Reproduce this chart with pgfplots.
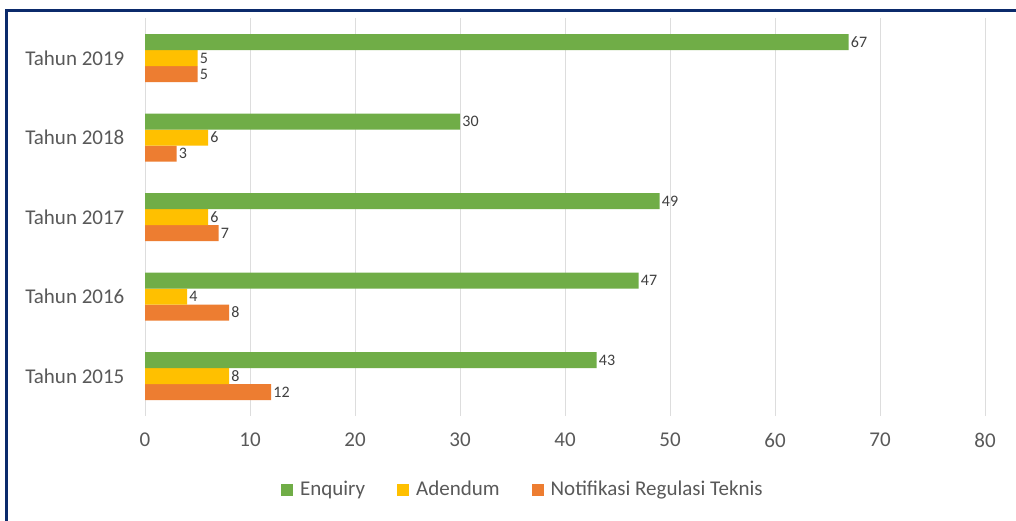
\documentclass[border=0pt]{standalone}
\usepackage{pgfplots}
\pgfplotsset{compat=1.18}
\usepackage{fontspec}
\setmainfont{Carlito}
\definecolor{cEnq}{HTML}{70AD47}
\definecolor{cAde}{HTML}{FFC000}
\definecolor{cNot}{HTML}{ED7D31}
\definecolor{cTxt}{HTML}{595959}
\definecolor{cLbl}{HTML}{404040}
\definecolor{cGrid}{HTML}{DDDDDD}
\definecolor{cBorder}{HTML}{0B2A6B}
\begin{document}
\begin{tikzpicture}
\useasboundingbox (0,0) rectangle (508pt,260pt);
\fill[white] (0,0) rectangle (508pt,260pt);
\draw[cBorder, line width=1.5pt] (3pt,-2pt) -- (3pt,254.5pt) -- (512pt,254.5pt);
\begin{axis}[
  at={(72.5pt,52.1pt)}, anchor=south west,
  scale only axis,
  width=420pt, height=198.75pt,
  xbar=0pt, bar width=8pt,
  xmin=0, xmax=80,
  ymin=-0.5, ymax=4.5,
  xtick={0,10,...,80},
  ytick={0,1,2,3,4},
  yticklabels={Tahun 2015,Tahun 2016,Tahun 2017,Tahun 2018,Tahun 2019},
  axis line style={draw=none},
  tick style={draw=none},
  xmajorgrids,
  grid style={cGrid, line width=0.5pt},
  /pgf/number format/assume math mode=true,
  ticklabel style={font=\fontsize{10.5}{12}\selectfont, text=cTxt},
  xticklabel style={yshift=-5pt},
  yticklabel style={xshift=-2.5pt},
  nodes near coords,
  every node near coord/.append style={font=\fontsize{8}{9}\selectfont, text=cLbl, anchor=west, inner xsep=1pt},
  legend columns=3,
  reverse legend,
  legend style={at={(0.451,-0.187)}, anchor=center, draw=none, fill=none,
    font=\fontsize{10.5}{12}\selectfont, text=cTxt,
    /tikz/every even column/.append style={column sep=14pt},
    /tikz/every odd column/.append style={column sep=1.5pt}},
  legend image code/.code={\fill[#1] (0pt,-3pt) rectangle (6pt,3pt);},
]
\addplot[fill=cNot, draw=none] coordinates {(12,0) (8,1) (7,2) (3,3) (5,4)};
\addlegendentry{Notifikasi Regulasi Teknis}
\addplot[fill=cAde, draw=none] coordinates {(8,0) (4,1) (6,2) (6,3) (5,4)};
\addlegendentry{Adendum}
\addplot[fill=cEnq, draw=none] coordinates {(43,0) (47,1) (49,2) (30,3) (67,4)};
\addlegendentry{Enquiry}
\end{axis}
\end{tikzpicture}
\end{document}
